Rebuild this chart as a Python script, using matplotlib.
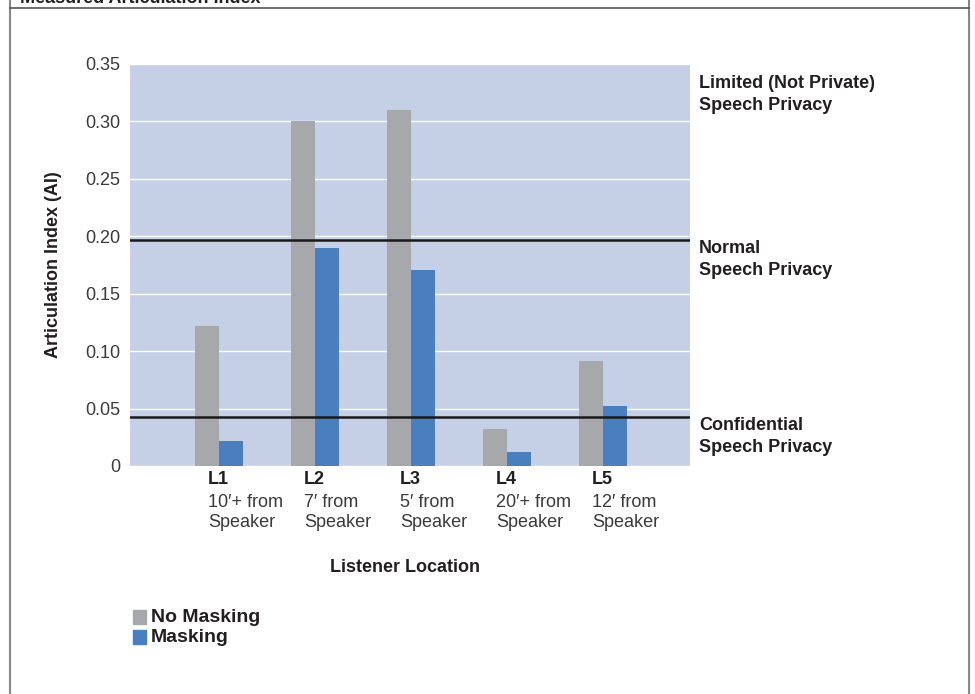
import numpy as np
import matplotlib.pyplot as plt
from matplotlib.patches import Rectangle
from matplotlib.lines import Line2D
from matplotlib import font_manager

# data
locations = ["L1", "L2", "L3", "L4", "L5"]
distances = ["10\u2032+ from", "7\u2032 from", "5\u2032 from", "20\u2032+ from", "12\u2032 from"]
no_masking = [0.122, 0.300, 0.310, 0.032, 0.091]
masking = [0.022, 0.190, 0.171, 0.012, 0.052]
thresholds = [0.197, 0.043]
zone_labels = ["Limited (Not Private)\nSpeech Privacy", "Normal\nSpeech Privacy",
               "Confidential\nSpeech Privacy"]
zone_y = [0.3235, 0.180, 0.0257]
yticks = [0, 0.05, 0.10, 0.15, 0.20, 0.25, 0.30, 0.35]
ytick_labels = ["0", "0.05", "0.10", "0.15", "0.20", "0.25", "0.30", "0.35"]

names = {f.name for f in font_manager.fontManager.ttflist}
base = "Liberation Sans Narrow" if "Liberation Sans Narrow" in names else "Liberation Sans"
plt.rcParams['font.family'] = [base, 'DejaVu Sans']

GREY = "#a7a8ab"
BLUE = "#4a7fbf"
BG = "#c5d0e7"
TXT = "#231f20"

W, H = 975, 694
fig = plt.figure(figsize=(W / 100, H / 100), dpi=100)
ax = fig.add_axes([130 / W, 1 - 466 / H, 560 / W, 402 / H])
ax.set_facecolor(BG)

x = np.arange(len(locations))
bw = 0.25
ax.bar(x - bw / 2, no_masking, bw, color=GREY, zorder=3)
ax.bar(x + bw / 2, masking, bw, color=BLUE, zorder=3)

ax.set_xlim(-0.927, 4.906)
ax.set_ylim(0, 0.35)
ax.set_yticks(yticks)
ax.set_yticklabels(ytick_labels, fontsize=13, color="#3a3a3a")
ax.yaxis.grid(True, color="white", linewidth=1, zorder=1)
ax.set_axisbelow(True)
ax.tick_params(axis="y", length=0, pad=7)
ax.set_xticks([])
for s in ax.spines.values():
    s.set_visible(False)

for t in thresholds:
    ax.axhline(t, color="#1a1a1a", linewidth=1.8, zorder=4)

trans = ax.get_xaxis_transform()
for i, (loc, d) in enumerate(zip(locations, distances)):
    ax.text(i - 0.115, -0.012, loc, transform=trans, ha="left", va="top",
            fontsize=13, fontweight="bold", color=TXT)
    ax.text(i - 0.115, -0.07, d + "\nSpeaker", transform=trans, ha="left", va="top",
            fontsize=13, color="#3a3a3a", linespacing=1.2)

for lab, yy in zip(zone_labels, zone_y):
    ax.text(1.016, yy, lab, transform=ax.get_yaxis_transform(), ha="left", va="center",
            fontsize=13, fontweight="bold", color=TXT, linespacing=1.35)

ax.set_ylabel("Articulation Index (AI)", fontsize=13, fontweight="bold", color=TXT,
              labelpad=17)
fig.text(405 / W, 1 - 567 / H, "Listener Location", ha="center", va="center",
         fontsize=13, fontweight="bold", color=TXT)

# legend
for lab, col, yy in [("No Masking", GREY, 617), ("Masking", BLUE, 637)]:
    fig.patches.append(Rectangle((133 / W, 1 - (yy + 7) / H), 13 / W, 14 / H,
                                 transform=fig.transFigure, color=col))
    fig.text(151 / W, 1 - yy / H, lab, ha="left", va="center", fontsize=14,
             fontweight="bold", color=TXT)

# frame of the figure panel
fig.add_artist(Line2D([10 / W, 10 / W], [0, 1], transform=fig.transFigure,
                      color="#888888", linewidth=1.5))
fig.add_artist(Line2D([969 / W, 969 / W], [0, 1], transform=fig.transFigure,
                      color="#888888", linewidth=1.5))
fig.add_artist(Line2D([10 / W, 969 / W], [1 - 8 / H, 1 - 8 / H], transform=fig.transFigure,
                      color="#555555", linewidth=1.2))
fig.text(20 / W, 1 - 3 / H, "Measured Articulation Index", ha="left", va="baseline",
         fontsize=13, fontweight="bold", color=TXT)

fig.savefig("out.png", dpi=100, facecolor="white")
